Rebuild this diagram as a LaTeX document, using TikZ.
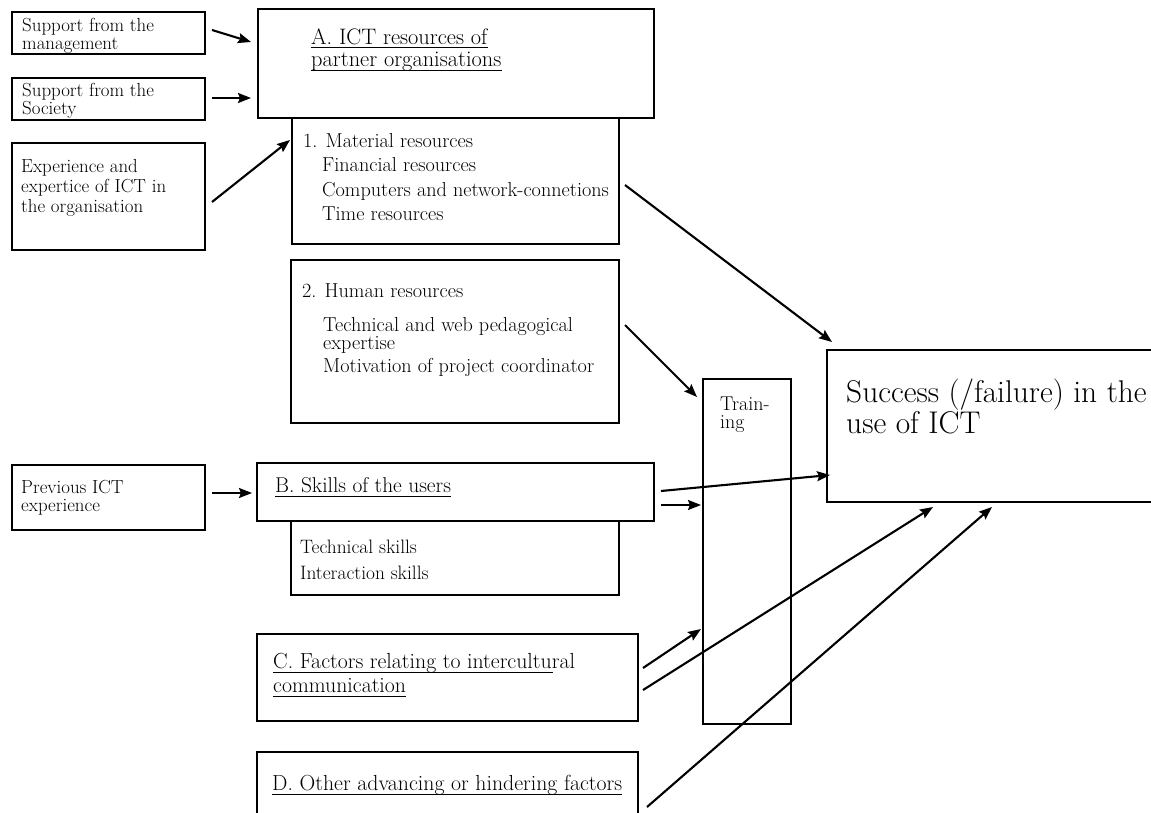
\documentclass[tikz,border=0pt]{standalone}
\usepackage{fontspec}
\usetikzlibrary{arrows.meta}
\newcommand\mybox[5]{\node[box, anchor=north west, inner sep=0pt, minimum width={#4-#2}, minimum height={#5-#3}] (#1) at (#2,#3) {};}
\begin{document}
\begin{tikzpicture}[x=1pt,y=-1pt,
  box/.style={draw, line width=1.6pt},
  arr/.style={line width=2.1pt, -{Stealth[length=13pt,width=10pt,inset=2pt]}},
  txt/.style={anchor=base west, inner sep=0pt},
  fs/.style={font=\fontsize{18.9}{20}\selectfont},
  fk/.style={font=\fontsize{19.4}{20}\selectfont},
  ft/.style={font=\fontsize{20}{20}\selectfont},
  fm/.style={font=\fontsize{20.2}{22}\selectfont},
  fa/.style={font=\fontsize{22.4}{24}\selectfont},
  fc/.style={font=\fontsize{21.8}{24}\selectfont},
  fb/.style={font=\fontsize{21.4}{24}\selectfont},
  fl/.style={font=\fontsize{31.4}{32}\selectfont},
  ul/.style={line width=1pt}]
\useasboundingbox (0,0) rectangle (1151,813);
\fill[white] (0,0) rectangle (1151,813);
\clip (0,0) rectangle (1151,813);

% boxes
\mybox{mgmt}{11}{11}{204}{53}
\mybox{soc}{11}{77}{204}{119}
\mybox{exper}{11}{142}{204}{249}
\mybox{prev}{11}{464}{204}{529}
\mybox{A}{257}{8}{653}{117}
\mybox{mat}{291}{117}{618}{243}
\mybox{hum}{290}{259}{618}{422}
\mybox{B}{256}{462}{653}{520}
\mybox{Bsub}{290}{520}{618}{594}
\mybox{C}{256}{633}{637}{720}
\mybox{D}{256}{751}{637}{840}
\mybox{train}{702}{378}{790}{723}
\mybox{succ}{826}{349}{1180}{501}

% left texts
\node[txt,fs] (t1) at (22,32) {Support from the};
\node[txt,fs] (t2) at (22,50) {management};
\node[txt,fs] (t3) at (22,97) {Support from the};
\node[txt,fs] (t4) at (22,115) {Society};
\node[txt,fs] (t5) at (21,173) {Experience and};
\node[txt,fs] (t6) at (21,193) {expertice of ICT in};
\node[txt,fs] (t7) at (21,213) {the organisation};
\node[txt,fs] (t8) at (21,493) {Previous ICT};
\node[txt,fs] (t9) at (21,511) {experience};

% A
\node[txt,fa] (a1) at (311,45) {A. ICT resources of};
\node[txt,fa] (a2) at (311,67) {partner organisations};
\draw[ul] ([yshift=-3pt]a1.base west) -- ([yshift=-3pt]a1.base east);
\draw[ul] ([yshift=-4pt]a2.base west) -- ([yshift=-4pt]a2.base east);

% material
\node[txt,fm] (m1) at (303,148) {1. Material resources};
\node[txt,fm] (m2) at (322,172) {Financial resources};
\node[txt,fm] (m3) at (322,197) {Computers and network-connetions};
\node[txt,fm] (m4) at (322,221) {Time resources};

% human
\node[txt,fm] (h1) at (302,297) {2. Human resources};
\node[txt,fm] (h2) at (323,331) {Technical and web pedagogical};
\node[txt,fm] (h3) at (323,349) {expertise};
\node[txt,fm] (h4) at (323,372) {Motivation of project coordinator};

% B
\node[txt,fb] (b1) at (275,492) {B. Skills of the users};
\draw[ul] ([yshift=-4pt]b1.base west) -- ([yshift=-4pt]b1.base east);
\node[txt,fk] (s1) at (300,553) {Technical skills};
\node[txt,fk] (s2) at (300,579) {Interaction skills};

% C
\node[txt,fc] (c1) at (273,668) {C. Factors relating to intercultural};
\node[txt,fc] (c2) at (273,692) {communication};
\draw[ul] ([yshift=-4pt]c1.base west) -- ([xshift=-22pt,yshift=-4pt]c1.base east);
\draw[ul] ([yshift=-4pt]c2.base west) -- ([yshift=-4pt]c2.base east);

% D
\node[txt,fc] (d1) at (272,790) {D. Other advancing or hindering factors};
\draw[ul] ([yshift=-4pt]d1.base west) -- ([yshift=-4pt]d1.base east);

% training & success
\node[txt,ft] (tr1) at (720,410) {Train-};
\node[txt,ft] (tr2) at (720,428) {ing};
\node[txt,fl] (u1) at (846,402) {Success (/failure) in the};
\node[txt,fl] (u2) at (846,433) {use of ICT};

% arrow endpoints
\coordinate (p1) at (212,30);   \coordinate (q1) at (251,42);
\coordinate (p2) at (212,98);   \coordinate (q2) at (251,98);
\coordinate (p3) at (212,202);  \coordinate (q3) at (290,140);
\coordinate (p4) at (212,493);  \coordinate (q4) at (252,493);
\coordinate (p5) at (625,185);  \coordinate (q5) at (832,342);
\coordinate (p6) at (625,325);  \coordinate (q6) at (697,397);
\coordinate (p7) at (661,491);  \coordinate (q7) at (830,475);
\coordinate (p8) at (661,505);  \coordinate (q8) at (701,505);
\coordinate (p9) at (643,668);  \coordinate (q9) at (701,629);
\coordinate (p10) at (643,690); \coordinate (q10) at (933,507);
\coordinate (p11) at (647,807); \coordinate (q11) at (992,507);

\draw[arr] (p1) -- (q1);
\draw[arr] (p2) -- (q2);
\draw[arr] (p3) -- (q3);
\draw[arr] (p4) -- (q4);
\draw[arr] (p5) -- (q5);
\draw[arr] (p6) -- (q6);
\draw[arr] (p7) -- (q7);
\draw[arr] (p8) -- (q8);
\draw[arr] (p9) -- (q9);
\draw[arr] (p10) -- (q10);
\draw[arr] (p11) -- (q11);
\end{tikzpicture}
\end{document}
